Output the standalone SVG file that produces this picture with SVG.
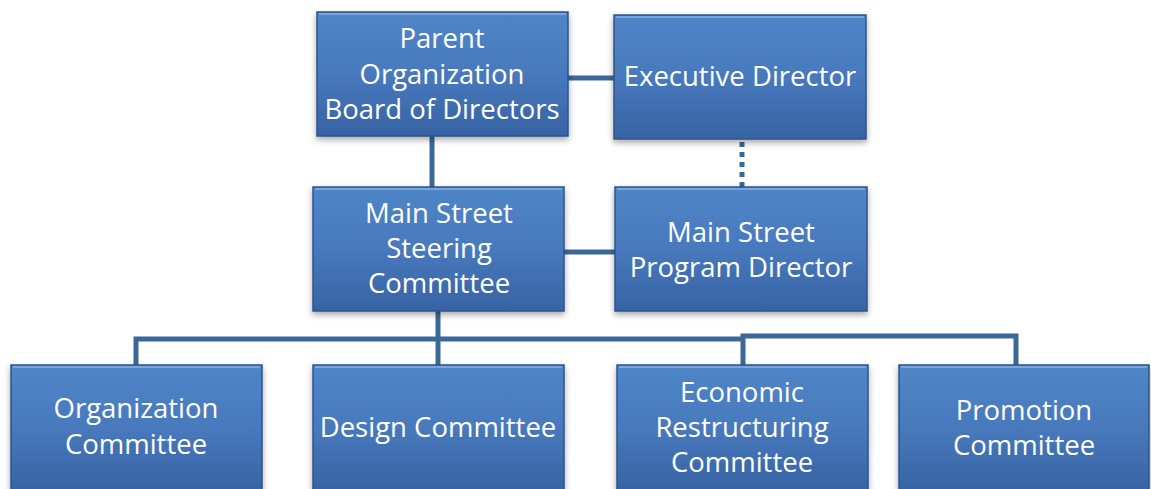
<svg xmlns="http://www.w3.org/2000/svg" width="1151" height="489" viewBox="0 0 1151 489">
<defs>
<linearGradient id="g" x1="0" y1="0" x2="0" y2="1">
<stop offset="0" stop-color="#4f86c7"/>
<stop offset="0.5" stop-color="#4879bd"/>
<stop offset="1" stop-color="#3763a3"/>
</linearGradient>
<filter id="sh" x="-10%" y="-10%" width="120%" height="130%">
<feDropShadow dx="0" dy="3" stdDeviation="3" flood-color="#000" flood-opacity="0.35"/>
</filter>
</defs>
<style>
.box{fill:url(#g);stroke:#2c5589;stroke-width:1.5;filter:url(#sh)}
.hl{fill:none;stroke:#7aa6dc;stroke-width:2}
.t{font-family:"Open Sans","Liberation Sans",sans-serif;font-size:27.5px;fill:#fff;text-anchor:middle}
.c{fill:none;stroke:#3a6898;stroke-width:5}
.d{fill:none;stroke:#3a6898;stroke-width:5;stroke-dasharray:5 5}
</style>
<rect width="1151" height="489" fill="#fff"/>
<g id="connectors">
<line class="c" x1="568" y1="78" x2="614" y2="78"/>
<line class="c" x1="432" y1="136" x2="432" y2="187"/>
<line class="d" x1="742" y1="142" x2="742" y2="187"/>
<line class="c" x1="564" y1="252" x2="615" y2="252"/>
<line class="c" x1="438" y1="311" x2="438" y2="365"/>
<polyline class="c" points="136,365 136,339 743,339"/>
<polyline class="c" points="743,365 743,336 1016,336 1016,365"/>
</g>
<g id="parent">
<rect class="box" x="317" y="12" width="251" height="124"/>
<line class="hl" x1="319" y1="14" x2="566" y2="14"/>
<text class="t" x="442" y="48">Parent</text>
<text class="t" x="442" y="84">Organization</text>
<text class="t" x="442" y="119">Board of Directors</text>
</g>
<g id="exec">
<rect class="box" x="614" y="15" width="252" height="124"/>
<line class="hl" x1="616" y1="17" x2="864" y2="17"/>
<text class="t" x="740" y="86">Executive Director</text>
</g>
<g id="steering">
<rect class="box" x="313" y="187" width="251" height="124"/>
<line class="hl" x1="315" y1="189" x2="562" y2="189"/>
<text class="t" x="439" y="223">Main Street</text>
<text class="t" x="439" y="258">Steering</text>
<text class="t" x="439" y="293">Committee</text>
</g>
<g id="program">
<rect class="box" x="615" y="187" width="252" height="124"/>
<line class="hl" x1="617" y1="189" x2="865" y2="189"/>
<text class="t" x="741" y="242">Main Street</text>
<text class="t" x="741" y="277">Program Director</text>
</g>
<g id="organization">
<rect class="box" x="11" y="365" width="251" height="126"/>
<line class="hl" x1="13" y1="367" x2="260" y2="367"/>
<text class="t" x="136" y="418">Organization</text>
<text class="t" x="136" y="454">Committee</text>
</g>
<g id="design">
<rect class="box" x="313" y="365" width="251" height="126"/>
<line class="hl" x1="315" y1="367" x2="562" y2="367"/>
<text class="t" x="438" y="437">Design Committee</text>
</g>
<g id="economic">
<rect class="box" x="617" y="365" width="251" height="126"/>
<line class="hl" x1="619" y1="367" x2="866" y2="367"/>
<text class="t" x="742" y="402">Economic</text>
<text class="t" x="742" y="437">Restructuring</text>
<text class="t" x="742" y="472">Committee</text>
</g>
<g id="promotion">
<rect class="box" x="899" y="365" width="250" height="126"/>
<line class="hl" x1="901" y1="367" x2="1147" y2="367"/>
<text class="t" x="1024" y="420">Promotion</text>
<text class="t" x="1024" y="455">Committee</text>
</g>
</svg>
